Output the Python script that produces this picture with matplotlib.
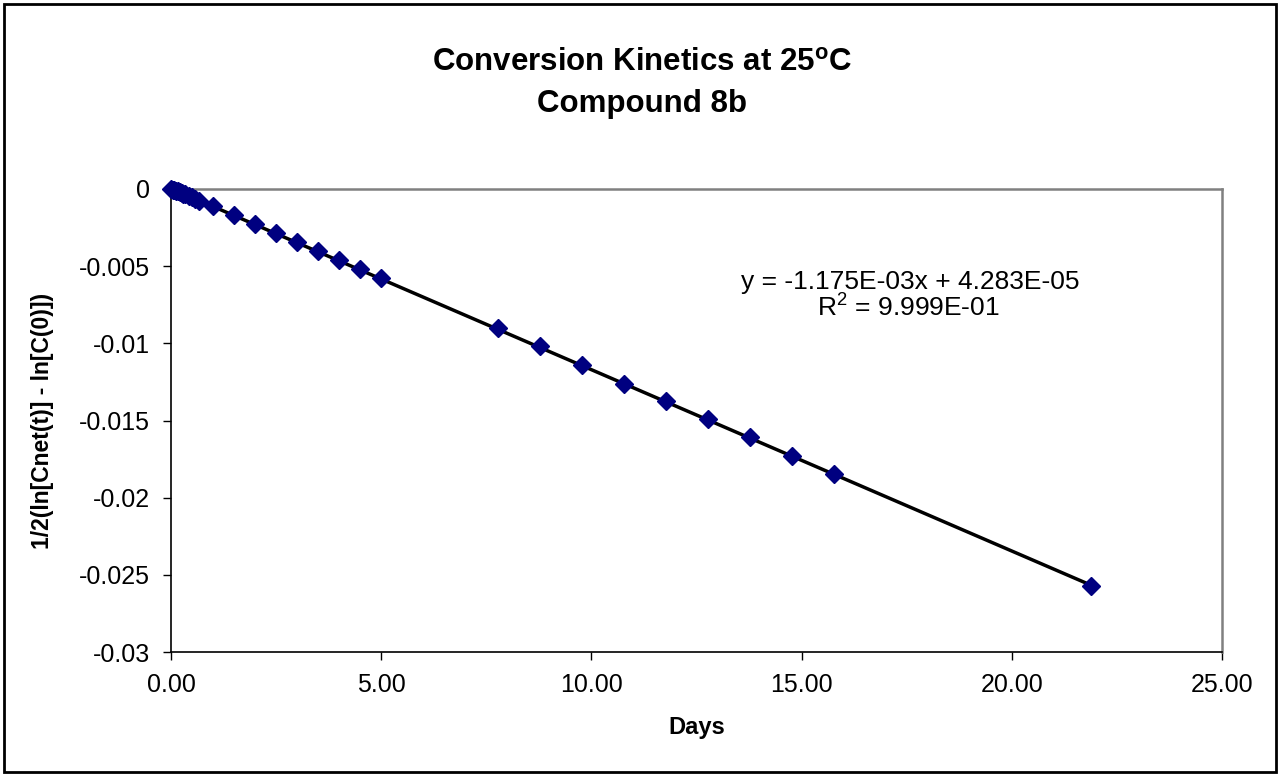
import numpy as np
import matplotlib
matplotlib.use("Agg")
import matplotlib.pyplot as plt
from matplotlib.patches import Rectangle

plt.rcParams['font.family'] = ['Liberation Sans', 'DejaVu Sans']
plt.rcParams['mathtext.fontset'] = 'custom'
plt.rcParams['mathtext.rm'] = 'Liberation Sans'
plt.rcParams['mathtext.bf'] = 'Liberation Sans:bold'

# data
days = [0.0, 0.04, 0.08, 0.13, 0.17, 0.21, 0.25, 0.29, 0.33, 0.42, 0.50, 0.58, 0.67,
        1.0, 1.5, 2.0, 2.5, 3.0, 3.5, 4.0, 4.5, 5.0,
        7.77, 8.78, 9.78, 10.78, 11.77, 12.77, 13.77, 14.77, 15.77, 21.88]
vals = [0.0, -0.00004, -0.00006, -0.00011, -0.00016, -0.00021, -0.00025, -0.00030, -0.00034,
        -0.00046, -0.00055, -0.00064, -0.00075,
        -0.00113, -0.00170, -0.00228, -0.00286, -0.00345, -0.00403, -0.00462, -0.00519, -0.00578,
        -0.00898, -0.01018, -0.01140, -0.01262, -0.01375, -0.01492, -0.01610, -0.01730, -0.01845, -0.02575]
slope = -1.175e-03
intercept = 4.283e-05

xticks = [0, 5, 10, 15, 20, 25]
xticklabels = ['0.00', '5.00', '10.00', '15.00', '20.00', '25.00']
yticks = [0, -0.005, -0.01, -0.015, -0.02, -0.025, -0.03]
yticklabels = ['0', '-0.005', '-0.01', '-0.015', '-0.02', '-0.025', '-0.03']

fig = plt.figure(figsize=(12.8, 7.76), dpi=100)
ax = fig.add_axes([171/1280, 1-652/776, (1222-171)/1280, (652-189)/776])

# trendline over data range
xl = np.array([min(days), max(days)])
ax.plot(xl, slope*xl + intercept, color='black', lw=2.5, zorder=2)
ax.plot(days, vals, linestyle='none', marker='D', markersize=9,
        color='#000080', markeredgecolor='#000080', zorder=3, clip_on=False)

ax.set_xlim(0, 25)
ax.set_ylim(-0.03, 0)
ax.set_xticks(xticks)
ax.set_xticklabels(xticklabels, fontsize=18)
ax.set_yticks(yticks)
ax.set_yticklabels(yticklabels, fontsize=18)
ax.tick_params(direction='out', length=6, width=1, color='black', pad=9)

for s in ['top', 'right']:
    ax.spines[s].set_color('#808080')
    ax.spines[s].set_linewidth(1.8)
for s in ['left', 'bottom']:
    ax.spines[s].set_color('black')
    ax.spines[s].set_linewidth(1.2)

ax.set_xlabel('Days', fontsize=17, fontweight='bold')
ax.set_ylabel('1/2(ln[Cnet(t)] - ln[C(0)])', fontsize=16.5, fontweight='bold')
ax.xaxis.set_label_coords(0.5, -(716-652)/463)
ax.yaxis.set_label_coords((54-171)/1051, 0.5)

fig.text(642/1280, 1-63/776, r'Conversion Kinetics at 25$^{\mathbf{o}}$C', ha='center', va='center',
         fontsize=22.5, fontweight='bold')
fig.text(642/1280, 1-104/776, 'Compound 8b', ha='center', va='center', fontsize=22.5, fontweight='bold')

ax.text((910-171)/1051, 1-(282-189)/463, 'y = -1.175E-03x + 4.283E-05', transform=ax.transAxes,
        ha='center', va='center', fontsize=19)
ax.text((908-171)/1051, 1-(307-189)/463, r'R$^{\mathrm{2}}$ = 9.999E-01', transform=ax.transAxes,
        ha='center', va='center', fontsize=19)

fig.patches.append(Rectangle((4/1280, 4/776), 1272/1280, 768/776, transform=fig.transFigure,
                             fill=False, edgecolor='black', linewidth=2))

fig.savefig('out.png', dpi=100, facecolor='white')
